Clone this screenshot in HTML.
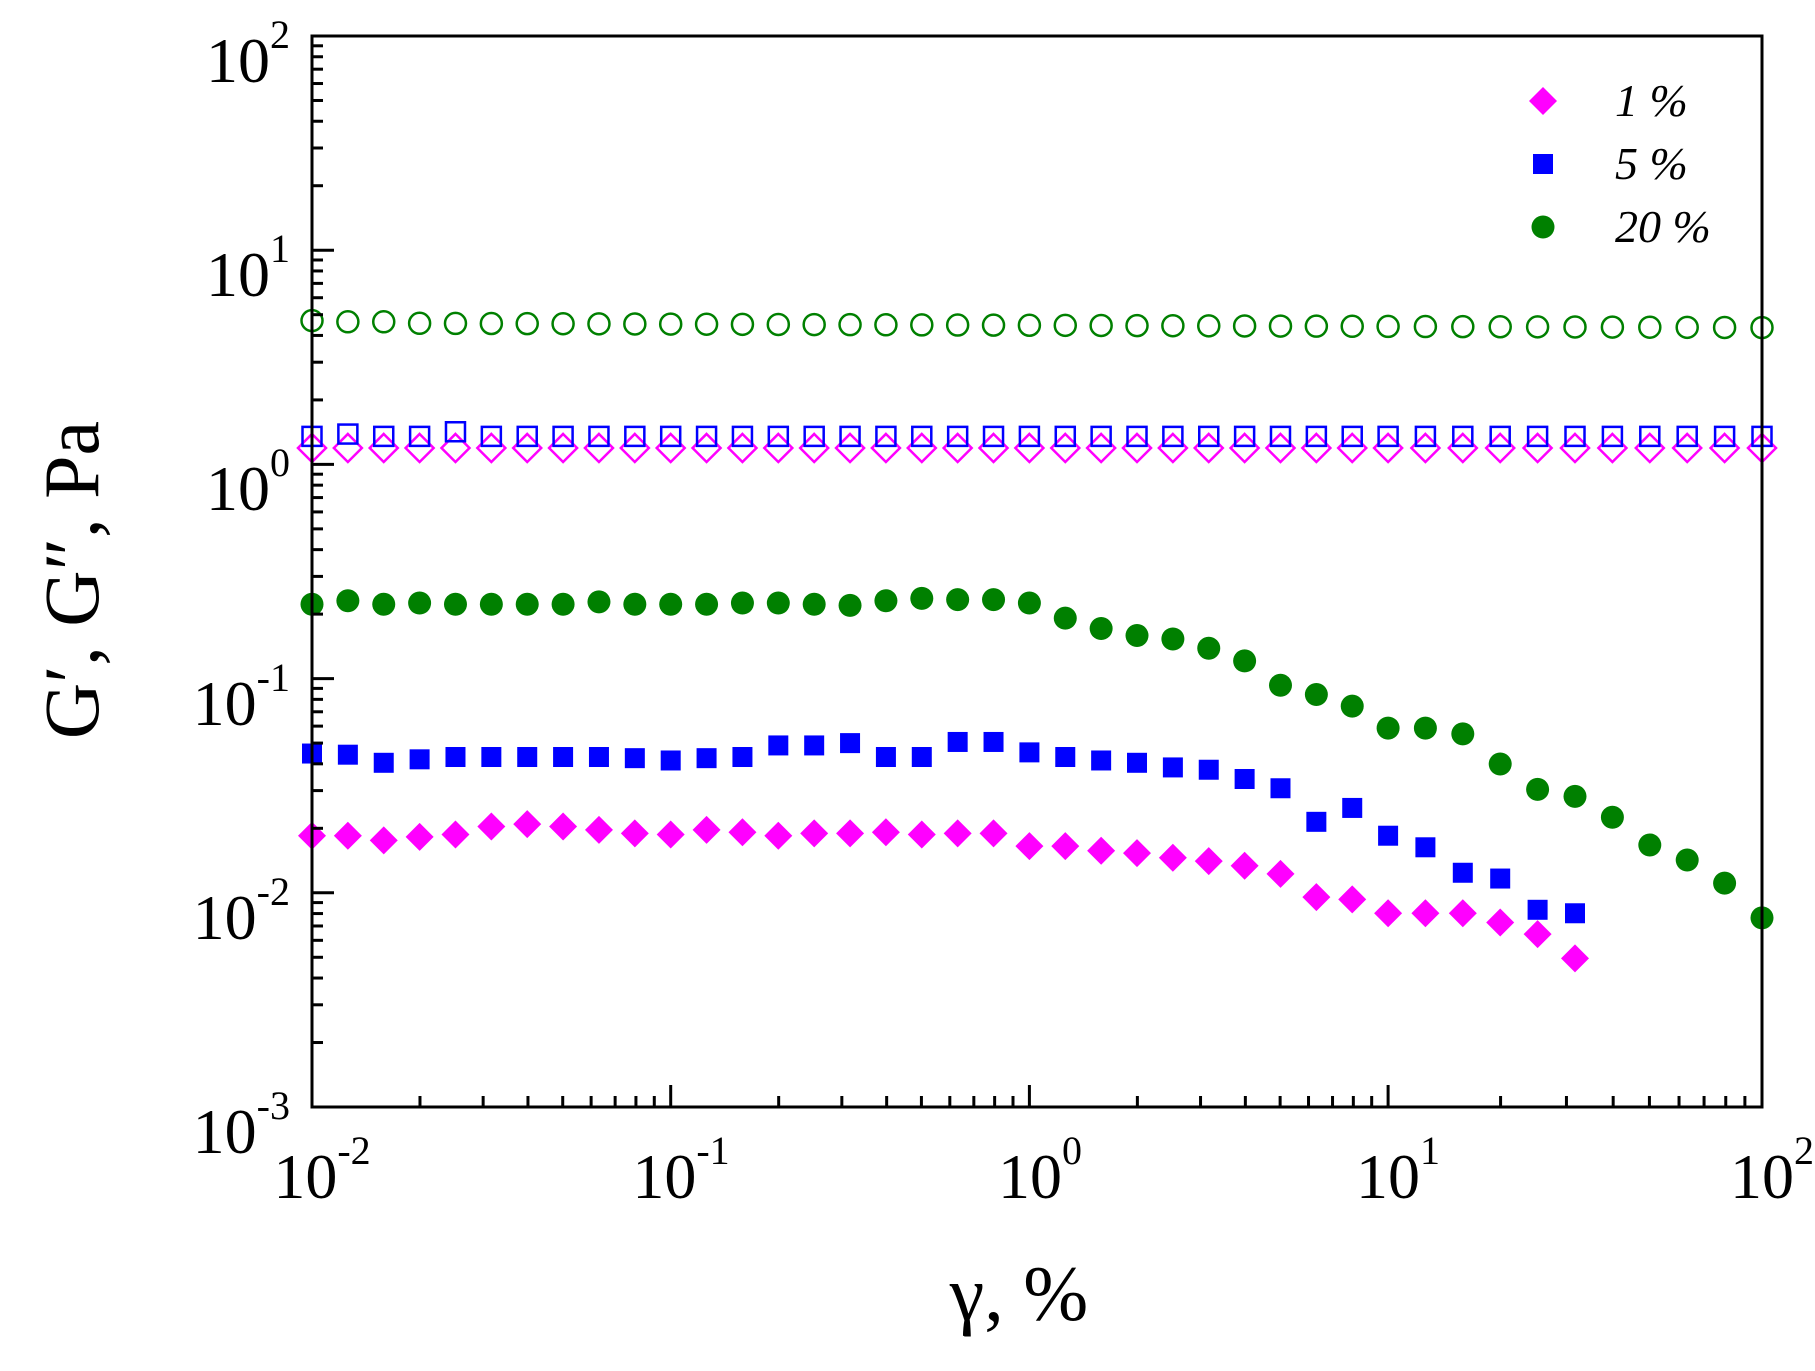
<!DOCTYPE html>
<html><head><meta charset="utf-8"><style>
html,body{margin:0;padding:0;background:#fff;}
svg{display:block;font-family:"Liberation Serif",serif;}
</style></head><body>
<svg id="s" width="1815" height="1371" viewBox="0 0 1815 1371" xmlns="http://www.w3.org/2000/svg">
<rect width="1815" height="1371" fill="#fff"/>
<g id="data"></g>
<rect x="312" y="36" width="1450" height="1071" fill="none" stroke="#000" stroke-width="3"/>
<g id="ticks" stroke="#000" stroke-width="3"></g>
<g font-size="64" fill="#000" text-anchor="end">
<text x="290" y="82">10<tspan font-size="40" dy="-34">2</tspan></text>
<text x="290" y="296">10<tspan font-size="40" dy="-34">1</tspan></text>
<text x="290" y="510">10<tspan font-size="40" dy="-34">0</tspan></text>
<text x="290" y="725">10<tspan font-size="40" dy="-34">-1</tspan></text>
<text x="290" y="939">10<tspan font-size="40" dy="-34">-2</tspan></text>
<text x="290" y="1153">10<tspan font-size="40" dy="-34">-3</tspan></text>
</g>
<g font-size="64" fill="#000" text-anchor="middle">
<text x="322" y="1198">10<tspan font-size="40" dy="-34">-2</tspan></text>
<text x="681" y="1198">10<tspan font-size="40" dy="-34">-1</tspan></text>
<text x="1040" y="1198">10<tspan font-size="40" dy="-34">0</tspan></text>
<text x="1398" y="1198">10<tspan font-size="40" dy="-34">1</tspan></text>
<text x="1772" y="1198">10<tspan font-size="40" dy="-34">2</tspan></text>
</g>
<text x="1019" y="1320" font-size="78" text-anchor="middle">γ, %</text>
<text transform="translate(98,580) rotate(-90)" font-size="78" text-anchor="middle">G′, G″, Pa</text>
<g font-size="46" font-style="italic" fill="#000">
<text x="1615" y="116">1 %</text>
<text x="1615" y="179">5 %</text>
<text x="1615" y="242">20 %</text>
</g>
<polygon points="1543,87 1557,101 1543,115 1529,101" fill="#ff00ff"/>
<rect x="1533" y="154" width="20" height="20" fill="#0000ff"/>
<circle cx="1543" cy="227" r="11.5" fill="#008000"/>
</svg>
<script>
var S=1.1575;
function XL(l){return l<=1?312+(l+2)*358.7:1388+(l-1)*374;}
function X(i){return XL(-2+i*0.1);}
function Yd(d){return d*S;}
var g=document.getElementById('data'),h='';
var gf=[522,519,522,521,522,522,522,522,520,522,522,522,521,521,522,523,519,517,518,518,521,534,543,549,552,560,571,592,600,610,629,629,634,660,682,688,706,730,743,763,793];
var bf=[651,652,659,656,654,654,654,654,654,655,657,655,654,644,644,642,654,654,641,641,650,654,657,659,663,665,673,681,710,698,722,732,754,759,786,789];
var pf=[722,722,726,723,721,714,712,714,717,720,721,717,719,722,720,720,719,721,720,720,731,731,735,737,741,744,748,755,775,777,789,789,789,797,807,828];
for(var i=0;i<41;i++){var x=X(i);
 var yg=Yd(i==0?277:(i<3?278:279+i*0.1));
 h+='<circle cx="'+x+'" cy="'+yg+'" r="10.5" fill="none" stroke="#008000" stroke-width="2.5"/>';
 var yp=Yd(387);
 h+='<polygon points="'+x+','+(yp-14)+' '+(x+14)+','+yp+' '+x+','+(yp+14)+' '+(x-14)+','+yp+'" fill="none" stroke="#ff00ff" stroke-width="2.5"/>';
 var yb=Yd(i==1?375:(i==4?373:377));
 h+='<rect x="'+(x-9.5)+'" y="'+(yb-9.5)+'" width="19" height="19" fill="none" stroke="#0000ff" stroke-width="2.5"/>';
}
for(i=0;i<gf.length;i++){h+='<circle cx="'+X(i)+'" cy="'+Yd(gf[i])+'" r="11.5" fill="#008000"/>';}
for(i=0;i<bf.length;i++){h+='<rect x="'+(X(i)-10)+'" y="'+(Yd(bf[i])-10)+'" width="20" height="20" fill="#0000ff"/>';}
for(i=0;i<pf.length;i++){var x=X(i),y=Yd(pf[i]);h+='<polygon points="'+x+','+(y-14)+' '+(x+14)+','+y+' '+x+','+(y+14)+' '+(x-14)+','+y+'" fill="#ff00ff"/>';}
g.innerHTML=h;
var t='';
for(var d=0;d<4;d++)for(var k=1;k<10;k++){var x=XL(d-2+Math.log10(k));var L=k==1?22:11;
 t+='<line x1="'+x+'" y1="1107" x2="'+x+'" y2="'+(1107-L)+'"/>';}
t+='<line x1="1762" y1="1107" x2="1762" y2="1085"/>';
for(var d=0;d<5;d++)for(var k=1;k<10;k++){var y=1107-(d+Math.log10(k))*214.2;var L=k==1?22:11;
 t+='<line x1="312" y1="'+y+'" x2="'+(312+L)+'" y2="'+y+'"/>';}
document.getElementById('ticks').innerHTML=t;
</script>
</body></html>
